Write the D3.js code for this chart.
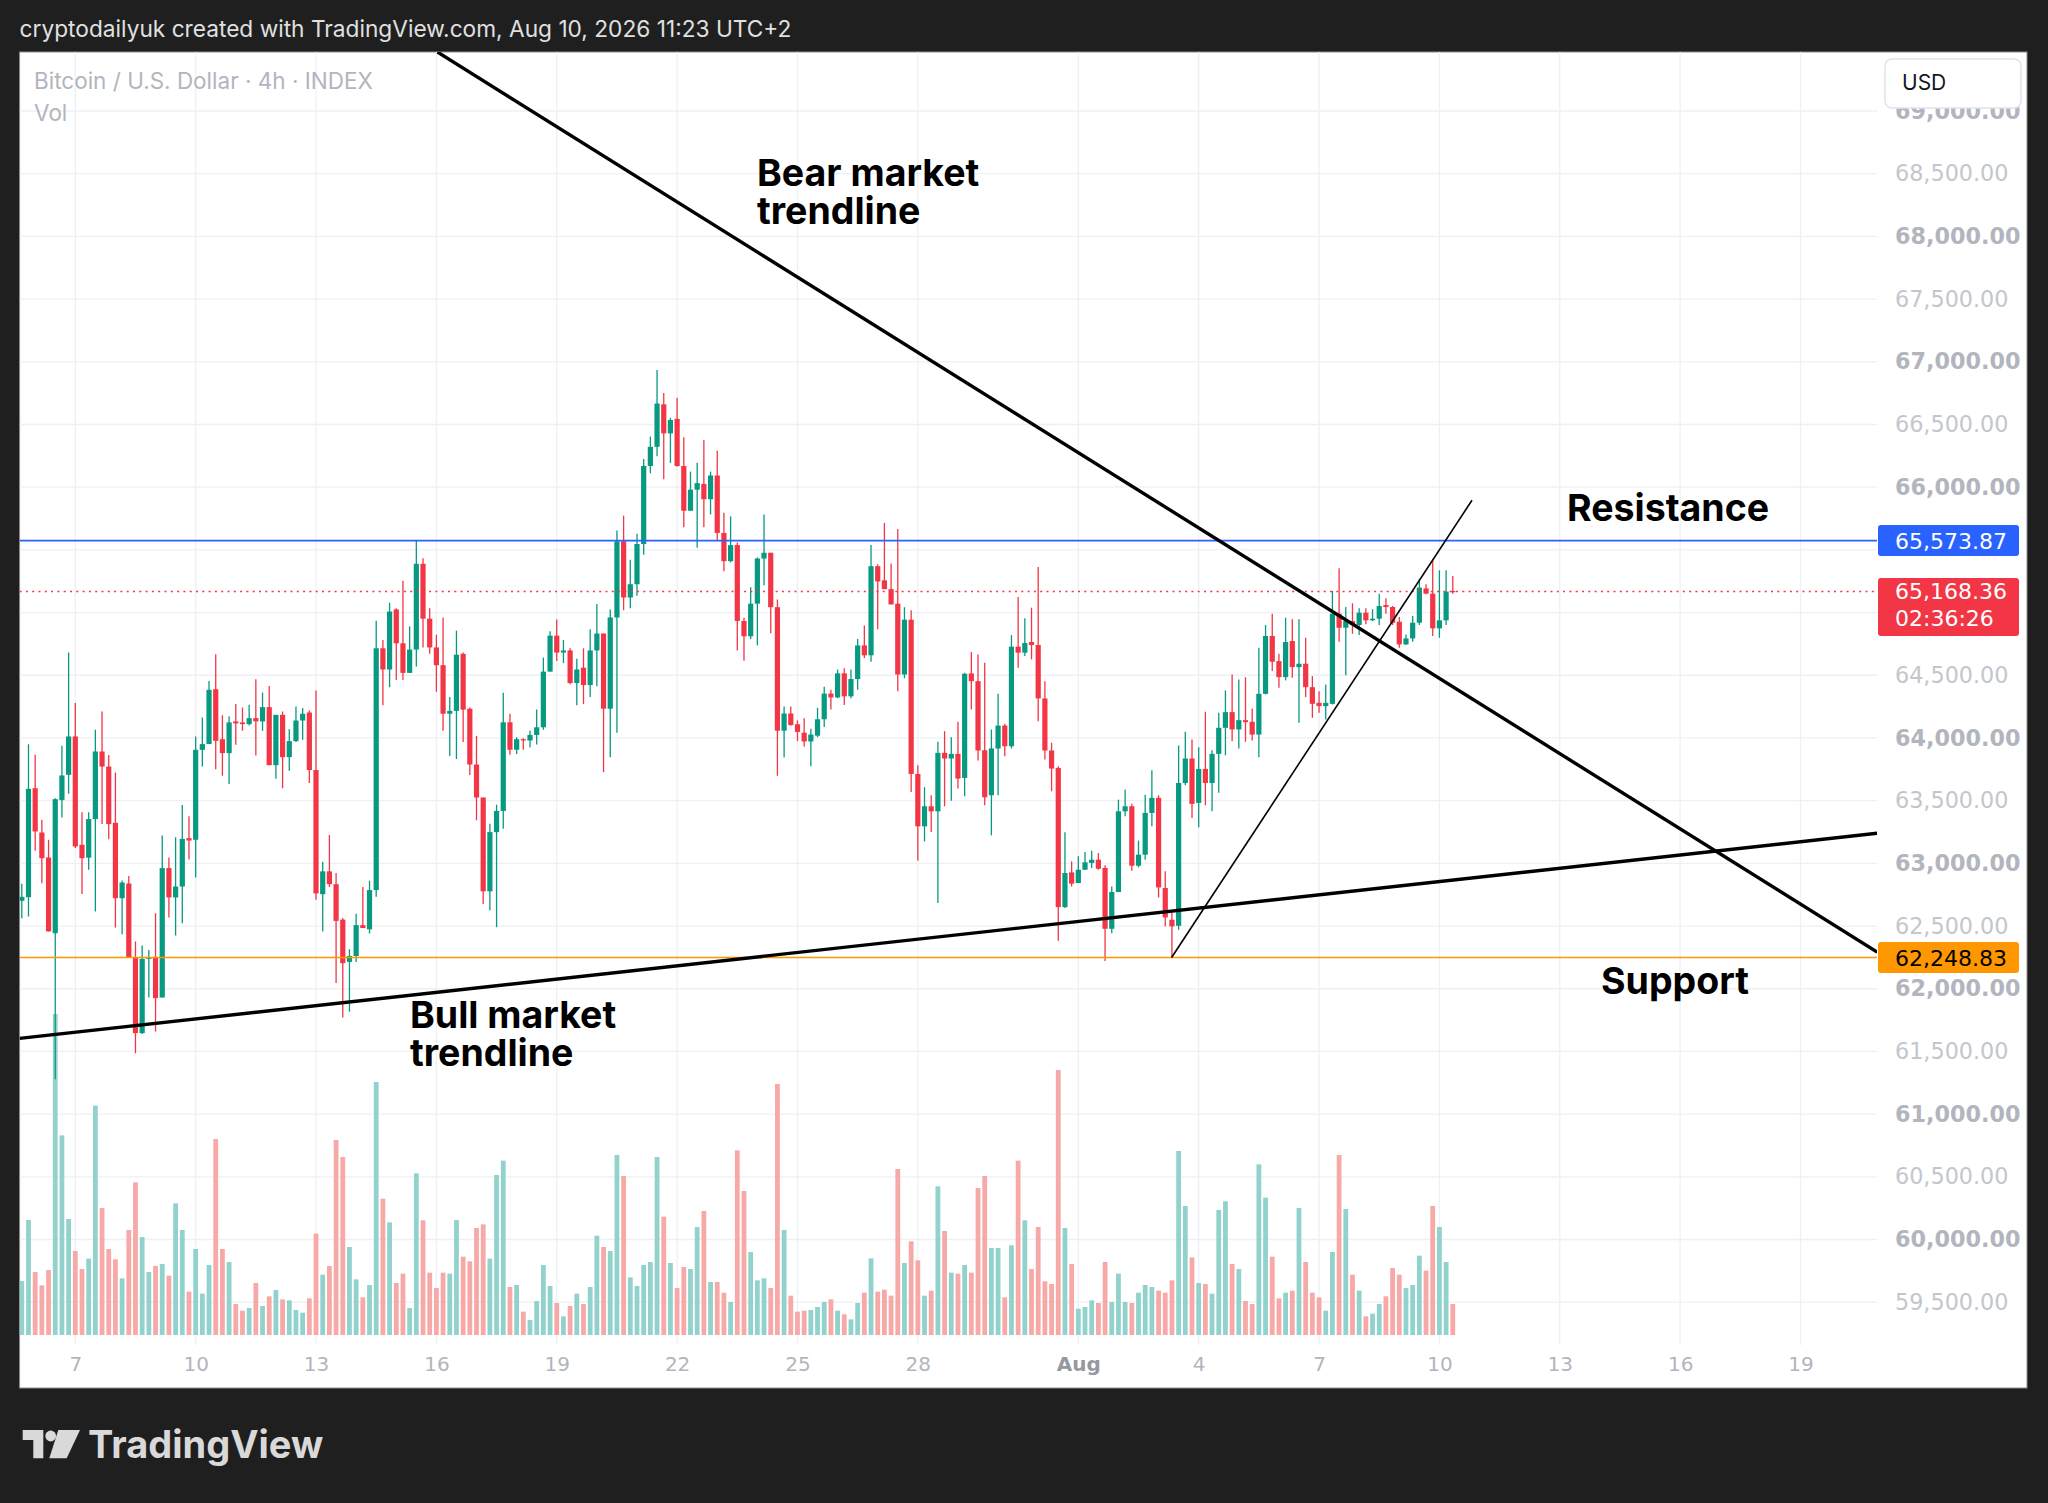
<!DOCTYPE html>
<html>
<head>
<meta charset="utf-8">
<script src="https://cdn.jsdelivr.net/npm/d3@7"></script>
<style>
  body { margin: 0; background: #1f1f1f; }
  svg { display: block; }
</style>
</head>
<body>
<svg id="chart" width="2048" height="1503"></svg>
<script>
// 4h candles, first bar and bar length
const firstBar = new Date(2026, 6, 5, 16);
const barHours = 4;

const opens = [
  62701,62730,63599,63246,63047,62443,63504,63706,64012,63148,
  63045,63353,63892,63772,63323,62722,62839,62249,61646,62238,
  62249,61930,62962,62728,62815,63201,63188,63905,63951,64389,
  63990,63879,64132,64124,64110,64158,64132,64246,63783,64184,
  63847,63975,64139,64203,63744,62754,62936,62834,62551,62214,
  62261,62507,62474,62787,64715,64546,65025,64755,64519,64705,
  65389,64951,64722,64580,64193,64216,64671,64233,63788,63525,
  62777,63249,63418,64125,63906,63990,63980,64024,64085,64529,
  64816,64681,64698,64438,64560,64422,64698,64833,64233,64961,
  65568,65120,65226,65547,66169,66322,66661,66429,66545,66169,
  65812,65980,66026,65904,66093,65635,65410,65538,64933,64811,
  65071,65431,65477,65043,64058,64195,64109,64042,63972,64018,
  64149,64354,64323,64515,64332,64470,64738,64659,65370,65257,
  65187,65071,64506,64943,63713,63295,63455,63415,63881,63836,
  63873,63681,64515,64453,63902,63543,63916,64099,63934,64728,
  64680,64765,64741,64315,63900,63761,62651,62928,62843,62949,
  63003,63029,62963,62478,62771,63415,63455,62981,63069,63402,
  63522,62803,62550,62502,63641,63836,63482,63753,63641,63873,
  64081,64206,64068,64142,64129,64027,64352,64813,64613,64485,
  64773,64565,64592,64405,64280,64254,64272,64991,64879,64932,
  64901,64999,64938,64951,65060,65044,64927,64746,64794,64919,
  65193,65151,64874,64938,65172
];
const highs = [
  62837,63950,63866,63347,63188,63520,63937,64682,64278,63408,
  63408,64065,64211,63865,63725,62863,62900,62377,62345,62308,
  62602,63222,63047,63209,63466,63376,64012,64163,64455,64668,
  64182,64174,64270,64243,64264,64469,64362,64415,64184,64211,
  64070,64251,64238,64219,64378,63013,63226,62922,62565,62315,
  62598,62811,62861,64934,64782,65079,65035,65254,64890,65574,
  65433,65035,64823,64961,64327,64856,64681,64243,64017,63525,
  63316,63468,64361,64193,64007,63997,64058,64226,64641,64850,
  64944,64782,64715,64631,64715,64866,65069,64833,65025,65654,
  65773,65422,65629,66224,66404,66935,66752,66554,66713,66398,
  66124,66194,66377,66124,66291,65797,65767,65559,64958,65202,
  65440,65782,65477,65104,64250,64250,64140,64158,64073,64241,
  64409,64384,64546,64555,64546,64790,64897,65538,65385,65715,
  65391,65666,65043,65019,63783,63607,63543,63969,64054,64006,
  64129,64520,64685,64666,64600,64067,64352,64113,64821,65124,
  64954,65039,65364,64453,63961,63774,63247,63016,63056,63090,
  63101,63082,62984,62816,63508,63588,63476,63181,63548,63743,
  63543,62936,62603,63940,64049,63988,63926,64209,63902,64201,
  64379,64507,64467,64485,64235,64720,64901,64991,64672,64959,
  64946,64946,64799,64493,64373,64427,65172,65353,65044,65074,
  65034,65034,65026,65151,65114,65052,64964,64826,64972,65265,
  65225,65425,65337,65337,65292
];
const lows = [
  62563,62576,63100,62842,62457,61279,63365,63555,63122,62755,
  62948,62615,63313,63193,62488,62435,62249,61486,61638,61930,
  61659,61930,62568,62425,62523,63031,62887,63773,63951,63751,
  63698,63632,63945,64057,64099,63860,64057,63783,63674,63599,
  63738,63967,63985,63640,62710,62457,62811,62046,61770,61817,
  62214,62484,62440,62733,64260,64405,64462,64462,64519,64570,
  64722,64671,64368,64058,63856,63832,63967,63704,63343,62676,
  62626,62491,63276,63866,63872,63906,63923,63947,64065,64529,
  64614,64597,64428,64260,64270,64327,64412,63727,63846,64042,
  65019,65034,65135,65461,66111,66246,66063,66194,66163,65681,
  65812,65516,65681,65782,65574,65330,65400,64698,64616,64790,
  64738,65217,64836,63698,63844,64097,63975,63932,63774,64006,
  64088,64226,64317,64262,64317,64384,64637,64607,64866,65187,
  65065,64372,64476,63569,63020,63175,63250,62683,63455,63500,
  63596,63535,64227,63820,63463,63223,63543,63855,63916,64560,
  64653,64626,64134,63828,63575,62382,62643,62816,62843,62949,
  62963,62949,62222,62443,62771,63375,62941,62968,63029,63295,
  62728,62497,62257,62470,63622,63362,63287,63463,63415,63562,
  63862,63974,63916,63969,63980,63846,64347,64533,64400,64459,
  64480,64121,64326,64160,64201,64147,64267,64767,64501,64831,
  64821,64906,64932,64901,64991,64901,64720,64741,64767,64901,
  65146,64813,64799,64901,65151
];
const closes = [
  62733,63594,63254,63041,62457,63512,63701,64012,63135,63041,
  63353,63892,63772,63313,62722,62847,62249,61646,62238,62249,
  61925,62962,62728,62815,63195,63182,63905,63951,64384,63977,
  63879,64124,64116,64110,64158,64132,64246,63783,64184,63847,
  63975,64139,64193,63744,62760,62936,62834,62541,62204,62261,
  62507,62484,62787,64715,64546,65008,64755,64519,64705,65389,
  64951,64722,64580,64193,64216,64664,64226,63788,63525,62777,
  63249,63418,64125,63906,63990,63980,64024,64085,64529,64816,
  64681,64698,64438,64546,64422,64698,64833,64233,64961,65568,
  65120,65226,65547,66169,66322,66667,66429,66536,66169,65812,
  65980,66032,65904,66093,65635,65410,65538,64933,64811,65071,
  65431,65477,65043,64058,64195,64103,64048,63972,64027,64149,
  64354,64323,64515,64332,64470,64738,64659,65370,65248,65187,
  65065,64506,64943,63713,63295,63455,63415,63881,63836,63873,
  63676,64512,64453,63900,63527,63916,64099,63934,64728,64680,
  64757,64741,64315,63900,63756,62651,62923,62838,62949,63008,
  63029,62957,62478,62771,63415,63455,62981,63069,63402,63522,
  62808,62569,62497,63641,63836,63474,63753,63641,63873,64081,
  64206,64068,64142,64126,64027,64352,64813,64608,64485,64765,
  64565,64592,64405,64272,64254,64280,64991,64879,64932,64901,
  64999,64938,64951,65052,65044,64919,64746,64794,64919,65199,
  65151,64874,64938,65167,65168.36
];
const volumes = [
  162,345,189,149,195,963,599,348,252,198,
  229,688,381,258,227,170,315,458,294,189,
  207,213,178,395,315,130,258,124,210,588,
  258,219,93,73,81,156,87,116,135,107,
  104,75,67,110,304,181,207,585,534,264,
  167,113,150,759,409,338,156,184,81,485,
  344,187,141,187,184,345,235,221,321,332,
  229,480,523,144,150,70,45,102,210,147,
  96,56,87,124,93,144,298,264,252,540,
  477,173,147,210,219,534,355,216,141,204,
  198,324,372,159,159,127,99,554,432,249,
  164,170,141,753,315,118,70,73,75,84,
  99,107,73,62,47,96,127,230,130,136,
  118,498,216,281,224,118,133,446,312,187,
  184,210,187,441,477,261,261,113,269,523,
  344,198,324,161,153,795,321,213,79,84,
  104,96,219,99,184,99,96,127,150,144,
  133,127,164,552,387,233,156,153,124,375,
  401,213,198,102,93,512,412,235,110,127,
  133,381,219,127,113,73,249,540,378,181,
  133,56,64,93,116,201,181,141,150,238,
  193,387,324,219,93
];

// time axis ticks and labels
const tickDates = [
  new Date(2026, 6, 7), new Date(2026, 6, 10), new Date(2026, 6, 13), new Date(2026, 6, 16),
  new Date(2026, 6, 19), new Date(2026, 6, 22), new Date(2026, 6, 25), new Date(2026, 6, 28),
  new Date(2026, 7, 1), new Date(2026, 7, 4), new Date(2026, 7, 7), new Date(2026, 7, 10),
  new Date(2026, 7, 13), new Date(2026, 7, 16), new Date(2026, 7, 19)
];
const tickLabels = ["7", "10", "13", "16", "19", "22", "25", "28", "Aug", "4", "7", "10", "13", "16", "19"];
const priceTicks = d3.range(59500, 69001, 500);

// horizontal levels
const resistance = 65573.87;
const support = 62248.83;
const lastPrice = 65168.36;
const countdown = "02:36:26";

// trendlines, two anchors each (time, price)
const bearLine = [[new Date(2026, 6, 16, 0, 40), 69470], [new Date(2026, 7, 20, 21, 50), 62293]];
const bullLine = [[new Date(2026, 6, 5, 14, 40), 61604], [new Date(2026, 7, 20, 21, 50), 63240]];
const riseLine = [[new Date(2026, 7, 3, 7, 48), 62249], [new Date(2026, 7, 10, 19, 30), 65896]];

const svg = d3.select("#chart");

// geometry of the panel
const panel = { left: 19.6, right: 2027, top: 52, bottom: 1388 };
const plot = { left: 19.6, right: 1877, top: 52, bottom: 1345 };
const volBase = 1335;

const x = d3.scaleTime()
  .domain([tickDates[0], tickDates[tickDates.length - 1]])
  .range([75.3, 1800.5]);
const y = d3.scaleLinear()
  .domain([59500, 68000])
  .range([1302.2, 236.4]);
const v = d3.scaleLinear()
  .domain([0, d3.max(volumes)])
  .range([0, 321]);

const bars = opens.map((o, i) => ({
  t: new Date(firstBar.getTime() + i * barHours * 3600 * 1000),
  o: o, h: highs[i], l: lows[i], c: closes[i], vol: volumes[i]
}));

// background and white panel
svg.append("rect").attr("width", 2048).attr("height", 1503).attr("fill", "#1f1f1f");
svg.append("rect")
  .attr("x", panel.left).attr("y", panel.top)
  .attr("width", panel.right - panel.left).attr("height", panel.bottom - panel.top)
  .attr("fill", "#ffffff")
  .attr("stroke", "#8c8c8c").attr("stroke-width", 1);

svg.append("text")
  .attr("x", 19.6).attr("y", 37)
  .attr("font-family", "Inter, Roboto, sans-serif")
  .attr("font-size", 22.7)
  .attr("fill", "#e0e0e0")
  .text("cryptodailyuk created with TradingView.com, Aug 10, 2026 11:23 UTC+2");

svg.append("clipPath").attr("id", "plotClip")
  .append("rect")
  .attr("x", plot.left).attr("y", plot.top)
  .attr("width", plot.right - plot.left).attr("height", plot.bottom - plot.top);

// grid
const grid = svg.append("g").attr("clip-path", "url(#plotClip)");
grid.selectAll("line.vg")
  .data(tickDates)
  .enter().append("line")
  .attr("x1", d => x(d)).attr("x2", d => x(d))
  .attr("y1", plot.top).attr("y2", plot.bottom)
  .attr("stroke", "#eef0f4").attr("stroke-width", 1.3);
grid.selectAll("line.hg")
  .data(priceTicks)
  .enter().append("line")
  .attr("x1", plot.left).attr("x2", plot.right)
  .attr("y1", d => y(d)).attr("y2", d => y(d))
  .attr("stroke", "#eef0f4").attr("stroke-width", 1.3);

// legend
svg.append("text")
  .attr("x", 34).attr("y", 89)
  .attr("font-family", "Inter, Roboto, sans-serif")
  .attr("font-size", 22.5)
  .attr("fill", "#b2b5be")
  .text("Bitcoin / U.S. Dollar · 4h · INDEX");
svg.append("text")
  .attr("x", 34).attr("y", 121)
  .attr("font-family", "Inter, Roboto, sans-serif")
  .attr("font-size", 22.5)
  .attr("fill", "#b2b5be")
  .text("Vol");

const series = svg.append("g").attr("clip-path", "url(#plotClip)");

// volume
series.selectAll("rect.vol")
  .data(bars)
  .enter().append("rect")
  .attr("x", d => x(d.t) - 2.4)
  .attr("width", 4.8)
  .attr("y", d => volBase - v(d.vol))
  .attr("height", d => v(d.vol))
  .attr("fill", d => d.c >= d.o ? "#92d2cc" : "#f7a9a7");

// candles
const candle = series.selectAll("g.candle")
  .data(bars)
  .enter().append("g");
candle.append("line")
  .attr("x1", d => x(d.t)).attr("x2", d => x(d.t))
  .attr("y1", d => y(d.h)).attr("y2", d => y(d.l))
  .attr("stroke", d => d.c >= d.o ? "#089981" : "#f23645")
  .attr("stroke-width", 1.3);
candle.append("rect")
  .attr("x", d => x(d.t) - 2.6)
  .attr("width", 5.2)
  .attr("y", d => y(Math.max(d.o, d.c)))
  .attr("height", d => Math.max(1.2, Math.abs(y(d.o) - y(d.c))))
  .attr("fill", d => d.c >= d.o ? "#089981" : "#f23645");

// levels
const levels = svg.append("g").attr("clip-path", "url(#plotClip)");
levels.append("line")
  .attr("x1", plot.left).attr("x2", plot.right)
  .attr("y1", y(lastPrice)).attr("y2", y(lastPrice))
  .attr("stroke", "#f23645").attr("stroke-width", 1.5)
  .attr("stroke-dasharray", "2,4.3");
levels.append("line")
  .attr("x1", plot.left).attr("x2", plot.right)
  .attr("y1", y(resistance)).attr("y2", y(resistance))
  .attr("stroke", "#2962ff").attr("stroke-width", 1.6);
levels.append("line")
  .attr("x1", plot.left).attr("x2", plot.right)
  .attr("y1", y(support)).attr("y2", y(support))
  .attr("stroke", "#ff9800").attr("stroke-width", 1.6);

// trendlines
const seg = d3.line().x(d => x(d[0])).y(d => y(d[1]));
levels.append("path").attr("d", seg(bearLine))
  .attr("fill", "none").attr("stroke", "#000").attr("stroke-width", 3.4);
levels.append("path").attr("d", seg(bullLine))
  .attr("fill", "none").attr("stroke", "#000").attr("stroke-width", 3.4);
levels.append("path").attr("d", seg(riseLine))
  .attr("fill", "none").attr("stroke", "#000").attr("stroke-width", 1.6);

// annotation texts, one text per line
const notes = [
  { lines: ["Bear market", "trendline"], x: 757, y: 186 },
  { lines: ["Resistance"], x: 1567, y: 521 },
  { lines: ["Support"], x: 1601, y: 994 },
  { lines: ["Bull market", "trendline"], x: 410, y: 1028 }
];
notes.forEach(n => {
  n.lines.forEach((s, i) => {
    svg.append("text")
      .attr("x", n.x).attr("y", n.y + i * 38)
      .attr("font-family", "Inter, Roboto, sans-serif")
      .attr("font-weight", 700)
      .attr("font-size", 37.5)
      .attr("fill", "#000")
      .text(s);
  });
});

// price axis; labels under the price tags are hidden like in the original
const tagPrices = [resistance, lastPrice];
const visibleTicks = priceTicks.filter(p => tagPrices.every(q => Math.abs(y(p) - y(q)) > 25));
const priceAxis = svg.append("g")
  .attr("transform", `translate(1895,0)`)
  .call(d3.axisRight(y).tickValues(visibleTicks).tickSize(0).tickPadding(0)
    .tickFormat(d3.format(",.2f")));
priceAxis.select(".domain").remove();
priceAxis.selectAll("text")
  .attr("font-family", "DejaVu Sans, sans-serif")
  .attr("font-size", 22.3)
  .attr("font-weight", d => d % 1000 === 0 ? 700 : 400)
  .attr("fill", d => d % 1000 === 0 ? "#b2b5be" : "#c3c6cd");

// time axis
const timeAxis = svg.append("g")
  .attr("transform", `translate(0,1357)`)
  .call(d3.axisBottom(x).tickValues(tickDates).tickSize(0).tickPadding(0)
    .tickFormat((d, i) => tickLabels[i]));
timeAxis.select(".domain").remove();
timeAxis.selectAll("text")
  .attr("font-family", "DejaVu Sans, sans-serif")
  .attr("font-size", 20)
  .attr("font-weight", (d, i) => tickLabels[i] === "Aug" ? 700 : 400)
  .attr("fill", (d, i) => tickLabels[i] === "Aug" ? "#9598a1" : "#b2b5be");

// USD button
svg.append("rect")
  .attr("x", 1885).attr("y", 59).attr("width", 136).attr("height", 49).attr("rx", 7)
  .attr("fill", "#fff").attr("stroke", "#e0e3eb").attr("stroke-width", 1.5);
svg.append("text")
  .attr("x", 1902).attr("y", 90)
  .attr("font-family", "Inter, Roboto, sans-serif")
  .attr("font-size", 21)
  .attr("fill", "#131722")
  .text("USD");

// price labels on the scale
function priceTag(price, fill, color, extra) {
  const h = extra ? 58 : 31;
  const top = y(price) - (extra ? 13.5 : 15.5);
  svg.append("rect")
    .attr("x", 1878).attr("y", top).attr("width", 141).attr("height", h).attr("rx", 3)
    .attr("fill", fill);
  const lbl = [d3.format(",.2f")(price)].concat(extra ? [extra] : []);
  lbl.forEach((s, i) => {
    svg.append("text")
      .attr("x", 1895).attr("y", y(price) + 8 + i * 27)
      .attr("font-family", "DejaVu Sans, sans-serif")
      .attr("font-size", 22)
      .attr("fill", color)
      .text(s);
  });
}
priceTag(resistance, "#2962ff", "#fff");
priceTag(lastPrice, "#f23645", "#fff", countdown);
priceTag(support, "#ff9800", "#000");

// footer logo
const logo = svg.append("g").attr("fill", "#d9d9d9");
logo.append("path").attr("d", "M22.7,1430 H43.3 V1458.3 H33.3 V1440 H22.7 Z");
logo.append("circle").attr("cx", 50.7).attr("cy", 1436).attr("r", 5.4);
logo.append("path").attr("d", "M58.3,1430 H80 L66.7,1458.3 H49.3 Z");
svg.append("text")
  .attr("x", 88).attr("y", 1458)
  .attr("font-family", "Inter, Roboto, sans-serif")
  .attr("font-weight", 700)
  .attr("font-size", 38)
  .attr("fill", "#d9d9d9")
  .text("TradingView");
</script>
</body>
</html>
